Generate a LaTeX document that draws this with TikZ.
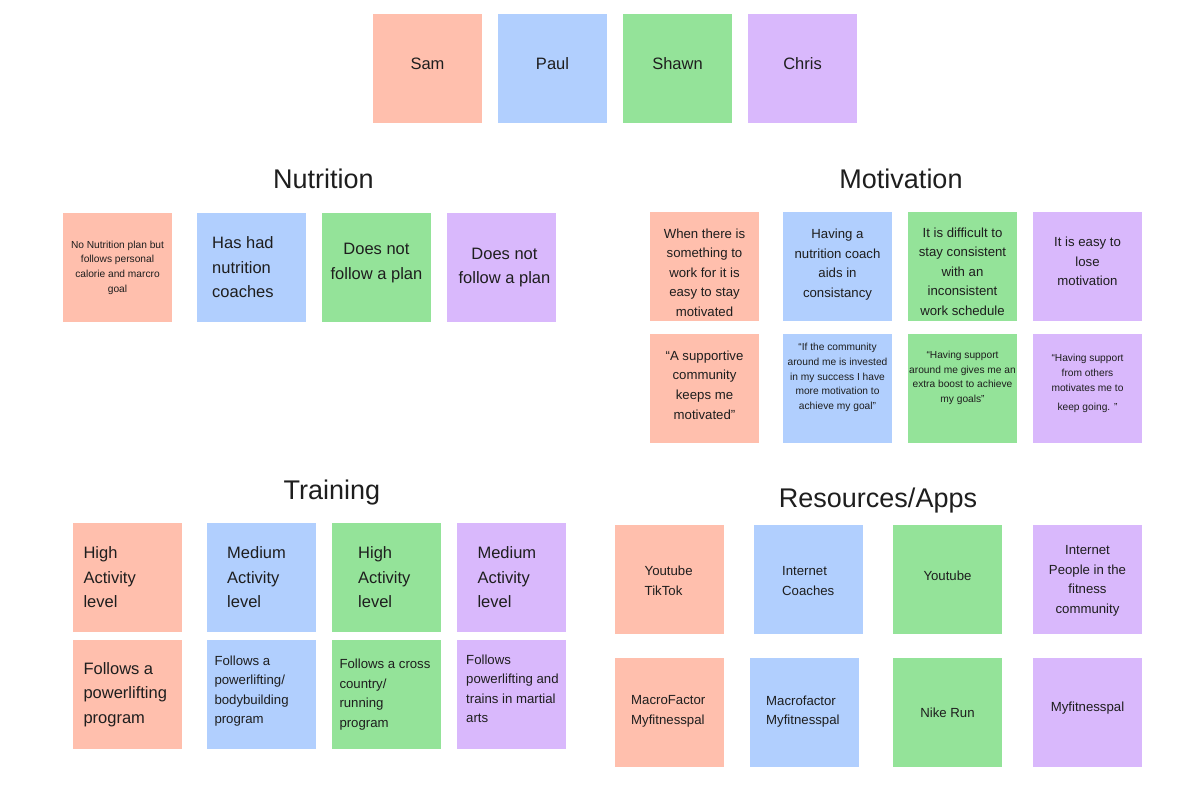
\documentclass[tikz,border=0pt]{standalone}
\usepackage{fontspec}
\setmainfont{Liberation Sans}
\definecolor{csam}{HTML}{FFBFAD}
\definecolor{cpaul}{HTML}{B1CFFE}
\definecolor{cshawn}{HTML}{94E399}
\definecolor{cchris}{HTML}{D9B8FC}
\definecolor{ink}{HTML}{1E1E1E}
\begin{document}
\begin{tikzpicture}[x=1pt,y=-1pt,
  box/.style={anchor=north west,minimum width=109pt,minimum height=109pt,inner sep=0pt,outer sep=0pt},
  ttl/.style={font=\fontsize{27}{32}\selectfont,text=ink,inner sep=0pt},
  tA/.style={font=\fontsize{16.5}{24.5}\selectfont,text=ink,inner sep=0pt},
  tB/.style={font=\fontsize{13.2}{19.6}\selectfont,text=ink,inner sep=0pt},
  tC/.style={font=\fontsize{10.2}{14.7}\selectfont,text=ink,inner sep=0pt},
  lft/.style={align=left,anchor=west},
  ctr/.style={align=center}]
\useasboundingbox[fill=white] (0,0) rectangle (1199,801);

% people
\node[box,fill=csam]   (p1) at (373,14) {};
\node[box,fill=cpaul]  (p2) at (498,14) {};
\node[box,fill=cshawn] (p3) at (623,14) {};
\node[box,fill=cchris] (p4) at (748,14) {};
\node[tA,ctr] (p1t) at ([yshift=5pt]p1.center) {Sam};
\node[tA,ctr] (p2t) at ([yshift=5pt]p2.center) {Paul};
\node[tA,ctr] (p3t) at ([yshift=5pt]p3.center) {Shawn};
\node[tA,ctr] (p4t) at ([yshift=5pt]p4.center) {Chris};

% titles
\node[ttl] (tn) at (323.5,179) {Nutrition};
\node[ttl] (tm) at (901,179) {Motivation};
\node[ttl] (tt) at (332,492.5) {Training};
\node[ttl] (tr) at (878,500.5) {Resources/Apps};

% nutrition
\node[box,fill=csam]   (n1) at (63,213) {};
\node[box,fill=cpaul]  (n2) at (197,213) {};
\node[box,fill=cshawn] (n3) at (322,213) {};
\node[box,fill=cchris] (n4) at (447,213) {};
\node[tC,ctr] (n1t) at (n1.center) {No Nutrition plan but\\follows personal\\calorie and marcro\\goal};
\node[tA,lft] (n2t) at ([xshift=15pt]n2.west) {Has had\\nutrition\\coaches};
\node[tA,ctr] (n3t) at ([yshift=4.5pt]n3.center) {Does not\\follow a plan};
\node[tA,ctr] (n4t) at ([xshift=3pt]n4.center) {Does not\\follow a plan};

% motivation
\node[box,fill=csam]   (m1) at (650,212) {};
\node[box,fill=cpaul]  (m2) at (783,212) {};
\node[box,fill=cshawn] (m3) at (908,212) {};
\node[box,fill=cchris] (m4) at (1033,212) {};
\node[box,fill=csam]   (m5) at (650,334) {};
\node[box,fill=cpaul]  (m6) at (783,334) {};
\node[box,fill=cshawn] (m7) at (908,334) {};
\node[box,fill=cchris] (m8) at (1033,334) {};
\node[tB,ctr] (m1t) at ([yshift=-6pt]m1.center) {When there is\\something to\\work for it is\\easy to stay\\motivated};
\node[tB,ctr] (m2t) at ([yshift=2pt]m2.center) {Having a\\nutrition coach\\aids in\\consistancy};
\node[tB,ctr] (m3t) at ([yshift=-5pt]m3.center) {It is difficult to\\stay consistent\\with an\\inconsistent\\work schedule};
\node[tB,ctr] (m4t) at ([yshift=5pt]m4.center) {It is easy to\\lose\\motivation};
\node[tB,ctr] (m5t) at ([yshift=3.5pt]m5.center) {“A supportive\\community\\keeps me\\motivated”};
\node[tC,ctr] (m6t) at ([yshift=11pt]m6.center) {“If the community\\around me is invested\\in my success I have\\more motivation to\\achieve my goal”};
\node[tC,ctr] (m7t) at ([yshift=10.5pt]m7.center) {“Having support\\around me gives me an\\extra boost to achieve\\my goals”};
\node[tC,ctr] (m8t) at ([yshift=4.7pt]m8.center) {“Having support\\from others\\motivates me to\\[5pt]keep going. ”};

% training
\node[box,fill=csam]   (a1) at (73,523) {};
\node[box,fill=cpaul]  (a2) at (207,523) {};
\node[box,fill=cshawn] (a3) at (332,523) {};
\node[box,fill=cchris] (a4) at (457,523) {};
\node[box,fill=csam]   (a5) at (73,640) {};
\node[box,fill=cpaul]  (a6) at (207,640) {};
\node[box,fill=cshawn] (a7) at (332,640) {};
\node[box,fill=cchris] (a8) at (457,640) {};
\node[tA,lft] (a1t) at ([xshift=10.3pt]a1.west) {High\\Activity\\level};
\node[tA,lft] (a2t) at ([xshift=20pt]a2.west) {Medium\\Activity\\level};
\node[tA,lft] (a3t) at ([xshift=26pt]a3.west) {High\\Activity\\level};
\node[tA,lft] (a4t) at ([xshift=20.3pt]a4.west) {Medium\\Activity\\level};
\node[tA,lft] (a5t) at ([xshift=10.3pt]a5.west) {Follows a\\powerlifting\\program};
\node[tB,lft] (a6t) at ([xshift=7.3pt,yshift=3.5pt]a6.west) {Follows a\\powerlifting/\\bodybuilding\\program};
\node[tB,lft] (a7t) at ([xshift=7.3pt]a7.west) {Follows a cross\\country/\\running\\program};
\node[tB,lft] (a8t) at ([xshift=9pt,yshift=5.7pt]a8.west) {Follows\\powerlifting and\\trains in martial\\arts};

% resources
\node[box,fill=csam]   (r1) at (615,525) {};
\node[box,fill=cpaul]  (r2) at (754,525) {};
\node[box,fill=cshawn] (r3) at (893,525) {};
\node[box,fill=cchris] (r4) at (1033,525) {};
\node[box,fill=csam]   (r5) at (615,658) {};
\node[box,fill=cpaul]  (r6) at (750,658) {};
\node[box,fill=cshawn] (r7) at (893,658) {};
\node[box,fill=cchris] (r8) at (1033,658) {};
\node[tB,lft] (r1t) at ([xshift=29.5pt,yshift=-1.5pt]r1.west) {Youtube\\TikTok};
\node[tB,lft] (r2t) at ([xshift=28pt,yshift=-1.5pt]r2.west) {Internet\\Coaches};
\node[tB,ctr] (r3t) at ([yshift=4pt]r3.center) {Youtube};
\node[tB,ctr] (r4t) at ([yshift=-1.5pt]r4.center) {Internet\\People in the\\fitness\\community};
\node[tB,lft] (r5t) at ([xshift=16pt,yshift=1pt]r5.west) {MacroFactor\\Myfitnesspal};
\node[tB,lft] (r6t) at ([xshift=16pt,yshift=1pt]r6.west) {Macrofactor\\Myfitnesspal};
\node[tB,ctr] (r7t) at (r7.center) {Nike Run};
\node[tB,ctr] (r8t) at ([yshift=4pt]r8.center) {Myfitnesspal};
\end{tikzpicture}
\end{document}
